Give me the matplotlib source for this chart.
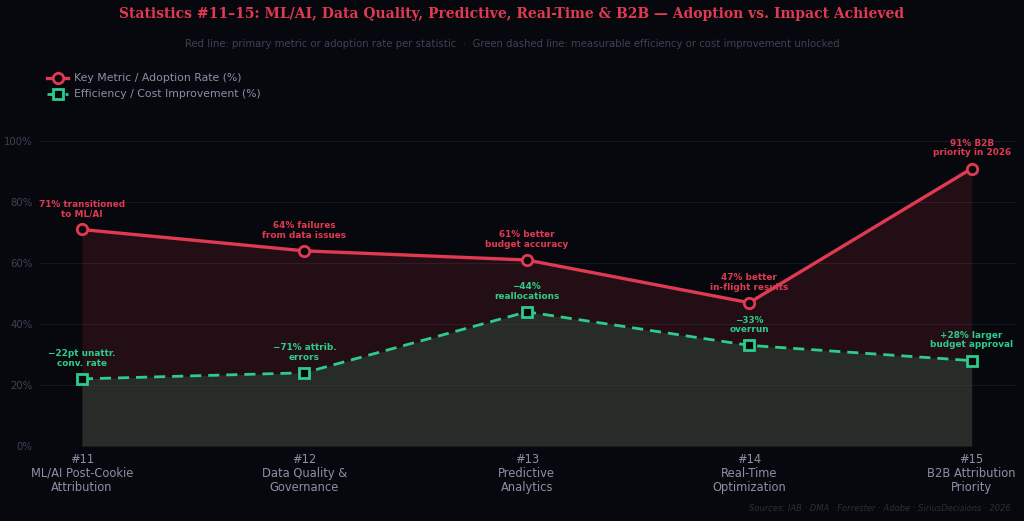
import matplotlib.pyplot as plt
import numpy as np

categories = ["#11\nML/AI Post-Cookie\nAttribution", "#12\nData Quality &\nGovernance",
              "#13\nPredictive\nAnalytics", "#14\nReal-Time\nOptimization",
              "#15\nB2B Attribution\nPriority"]
key_metric = [71, 64, 61, 47, 91]
efficiency = [22, 24, 44, 33, 28]
key_labels = ["71% transitioned\nto ML/AI", "64% failures\nfrom data issues",
              "61% better\nbudget accuracy", "47% better\nin-flight results",
              "91% B2B\npriority in 2026"]
eff_labels = ["\u221222pt unattr.\nconv. rate", "\u221271% attrib.\nerrors",
              "\u221244%\nreallocations", "\u221233%\noverrun",
              "+28% larger\nbudget approval"]

BG = "#07080d"
RED = "#e03a52"
GREEN = "#2ecc8a"
MUTED = "#8a90a6"

plt.rcParams['font.family'] = ['DejaVu Sans']
fig = plt.figure(figsize=(10.24, 5.21), dpi=100, facecolor=BG)
ax = fig.add_axes([0.04, 0.144, 0.953, 0.673])
ax.set_facecolor(BG)

x = np.arange(len(categories))
ax.fill_between(x, 0, key_metric, color=RED, alpha=0.13, lw=0)
ax.fill_between(x, 0, efficiency, color="#2e4a3c", alpha=0.5, lw=0)
ax.plot(x, key_metric, color=RED, lw=2.4, marker="o", ms=7.5, mfc=BG, mec=RED, mew=2,
        label="Key Metric / Adoption Rate (%)", zorder=4)
ax.plot(x, efficiency, color=GREEN, lw=2, ls=(0, (4, 2.5)), marker="s", ms=6.5, mfc=BG,
        mec=GREEN, mew=2, label="Efficiency / Cost Improvement (%)", zorder=4)

for xi, v, t in zip(x, key_metric, key_labels):
    ax.annotate(t, (xi, v), xytext=(0, 8), textcoords="offset points", ha="center",
                va="bottom", color=RED, fontsize=6.4, fontweight="bold", linespacing=1.1)
for xi, v, t in zip(x, efficiency, eff_labels):
    ax.annotate(t, (xi, v), xytext=(0, 8), textcoords="offset points", ha="center",
                va="bottom", color=GREEN, fontsize=6.4, fontweight="bold", linespacing=1.1)

ax.set_xlim(-0.184, 4.203)
ax.set_ylim(0, 115)
ax.set_yticks([0, 20, 40, 60, 80, 100])
ax.set_yticklabels([f"{v}%" for v in [0, 20, 40, 60, 80, 100]])
ax.set_xticks(x)
ax.set_xticklabels(categories, fontsize=8.3, color=MUTED, linespacing=1.1)
ax.tick_params(axis="y", colors="#3d4256", labelsize=7.3, length=0, pad=6)
ax.tick_params(axis="x", length=0, pad=5)
ax.grid(axis="y", color="#16181f", lw=0.8)
for s in ax.spines.values():
    s.set_visible(False)
ax.set_axisbelow(True)

ax.legend(loc="upper left", bbox_to_anchor=(0.002, 1.075), frameon=False, fontsize=7.8,
          labelcolor=MUTED, handlelength=1.9, handletextpad=0.6, borderaxespad=0,
          labelspacing=0.55)

fig.text(0.5, 0.986, "Statistics #11\u201315: ML/AI, Data Quality, Predictive, Real-Time & B2B \u2014 Adoption vs. Impact Achieved",
         ha="center", va="top", color=RED, fontsize=10, fontweight="bold", family="DejaVu Serif")
fig.text(0.5, 0.925, "Red line: primary metric or adoption rate per statistic  \u00b7  Green dashed line: measurable efficiency or cost improvement unlocked",
         ha="center", va="top", color="#3d4256", fontsize=7.3)
fig.text(0.987, 0.015, "Sources: IAB \u00b7 DMA \u00b7 Forrester \u00b7 Adobe \u00b7 SiriusDecisions \u00b7 2026",
         ha="right", va="bottom", color="#2a2e3c", fontsize=6, style="italic")

fig.savefig("out.png", dpi=100, facecolor=BG)
